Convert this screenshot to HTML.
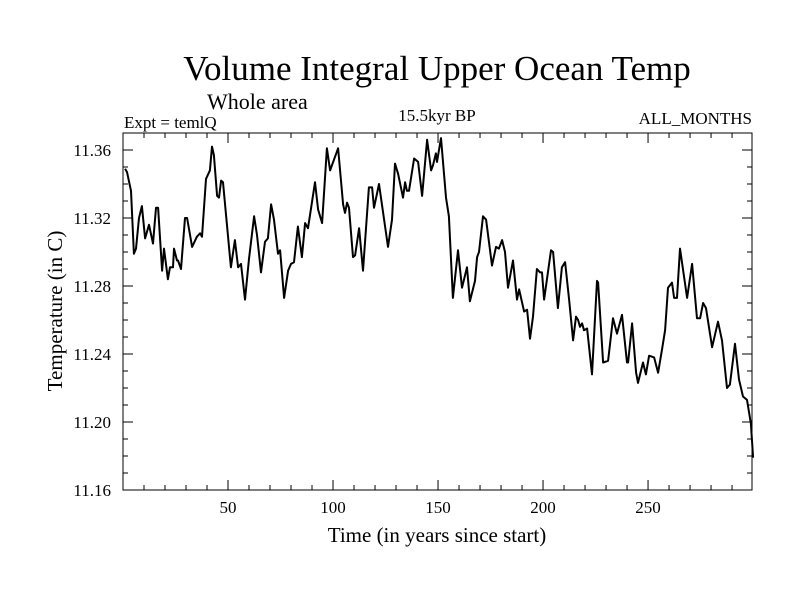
<!DOCTYPE html>
<html><head><meta charset="utf-8"><style>
body{margin:0;background:#fff;}
svg text{font-family:"Liberation Serif",serif;fill:#000;}
</style></head><body>
<svg id="chart" width="800" height="600" xmlns="http://www.w3.org/2000/svg">
<text x="437" y="80" font-size="35" text-anchor="middle">Volume Integral Upper Ocean Temp</text>
<text x="207" y="109" font-size="22">Whole area</text>
<text x="124" y="128" font-size="17">Expt = temlQ</text>
<text x="437" y="121" font-size="17" text-anchor="middle">15.5kyr BP</text>
<text x="752" y="124" font-size="17" text-anchor="end">ALL_MONTHS</text>
<text transform="translate(62,311) rotate(-90)" font-size="21" text-anchor="middle">Temperature (in C)</text>
<text x="437" y="542" font-size="21" text-anchor="middle">Time (in years since start)</text>
<g id="axes"></g>
<rect x="123" y="133" width="629" height="357" fill="none" stroke="#000" stroke-width="1"/>
<path id="series" fill="none" stroke="#000" stroke-width="2" stroke-linejoin="round"/>
</svg>
<script>
const years=[1,1.9,3.8,5.2,6.2,7.6,9.0,10.5,12.4,14.3,15.7,16.7,18.6,19.5,21.4,22.4,23.8,24.3,25.7,26.2,27.6,29.5,30.5,32.9,35.2,36.7,37.6,39.5,41.4,42.4,43.3,44.8,45.7,46.7,47.6,51.4,53.3,54.8,56.2,58.1,60.0,62.4,63.8,65.7,67.6,69.0,70.5,71.9,73.8,74.8,76.7,78.6,80.0,81.4,83.3,85.2,86.7,88.1,91.4,92.9,94.8,97.1,98.6,102.4,104.8,105.7,106.7,107.6,109.5,110.5,112.4,114.3,117.1,118.6,119.5,121.9,126.2,128.1,129.5,131.0,133.3,134.3,135.2,136.2,138.6,140.5,142.4,144.8,146.7,147.6,149.0,149.5,151.4,153.8,155.2,157.1,159.5,161.4,163.8,165.2,167.6,168.6,169.5,171.4,172.9,175.7,177.6,179.0,180.5,181.9,183.3,185.7,187.6,188.6,191.0,192.4,193.8,195.2,197.1,198.6,199.5,200.5,203.8,204.8,207.1,209.0,210.5,212.4,214.3,215.7,216.7,217.6,218.6,219.5,221.0,223.3,225.7,226.2,228.6,231.0,233.3,235.2,237.6,240.0,240.5,242.4,244.3,245.2,247.6,249.0,250.5,252.9,254.8,256.7,258.1,259.5,261.4,262.4,263.8,265.2,268.6,271.0,273.3,274.8,276.2,277.6,280.5,283.3,285.2,287.6,289.0,291.4,293.3,295.2,297.1,299.0,300];
const temps=[11.349,11.347,11.336,11.299,11.302,11.320,11.327,11.308,11.316,11.305,11.326,11.326,11.289,11.302,11.284,11.291,11.291,11.302,11.295,11.295,11.290,11.320,11.320,11.303,11.309,11.311,11.309,11.343,11.348,11.362,11.357,11.333,11.332,11.342,11.341,11.291,11.307,11.291,11.293,11.272,11.296,11.321,11.310,11.288,11.306,11.308,11.328,11.319,11.299,11.301,11.273,11.289,11.293,11.294,11.315,11.297,11.317,11.314,11.341,11.325,11.317,11.361,11.348,11.361,11.328,11.323,11.329,11.326,11.297,11.298,11.314,11.289,11.338,11.338,11.326,11.340,11.303,11.319,11.352,11.346,11.332,11.341,11.336,11.336,11.355,11.353,11.333,11.366,11.348,11.351,11.358,11.353,11.367,11.332,11.321,11.273,11.301,11.279,11.291,11.271,11.283,11.297,11.300,11.321,11.319,11.292,11.303,11.302,11.307,11.300,11.279,11.295,11.272,11.278,11.265,11.266,11.249,11.262,11.290,11.288,11.288,11.272,11.301,11.300,11.267,11.291,11.294,11.272,11.248,11.262,11.260,11.256,11.258,11.254,11.255,11.228,11.283,11.282,11.235,11.236,11.261,11.252,11.263,11.235,11.235,11.258,11.229,11.223,11.235,11.228,11.239,11.238,11.229,11.243,11.254,11.279,11.282,11.273,11.273,11.302,11.273,11.293,11.261,11.261,11.270,11.267,11.244,11.259,11.248,11.220,11.222,11.246,11.225,11.215,11.213,11.199,11.179];
const xTickLabels=[50,100,150,200,250];
const yTickLabels=["11.16","11.20","11.24","11.28","11.32","11.36"];

const X0=123,X1=752,Y0=490,Y1=133;
function xs(t){return X0+t*(X1-X0)/299.5;}
function ys(v){return Y0-(v-11.16)*1700;}
const NS="http://www.w3.org/2000/svg";
const axes=document.getElementById('axes');
function line(x1,y1,x2,y2,name){
  const l=document.createElementNS(NS,'line');
  l.setAttribute('x1',x1);l.setAttribute('y1',y1);l.setAttribute('x2',x2);l.setAttribute('y2',y2);
  l.setAttribute('stroke','#000');l.setAttribute('stroke-width','1');
  
  
  axes.appendChild(l);
}
function text(x,y,s,anchor,name){
  const t=document.createElementNS(NS,'text');
  t.setAttribute('x',x);t.setAttribute('y',y);t.setAttribute('font-size','17');t.setAttribute('text-anchor',anchor);
  t.textContent=s;
  
  
  axes.appendChild(t);
}
for(let t=10;t<300;t+=10){
  const x=xs(t); const major=(t%50===0); const L=major?10:5;
  line(x,Y0,x,Y0-L,'x-tick');
  line(x,Y1,x,Y1+L,'x-tick-top');
}
xTickLabels.forEach(v=>text(xs(v),513,String(v),'middle','x-tick-label'));
for(let i=0;i<=21;i++){
  const v=11.16+i*0.01; const y=ys(v); if(y<Y1-0.5)break;
  const major=(i%4===0); const L=major?10:5;
  line(X0,y,X0+L,y,'y-tick');
  line(X1,y,X1-L,y,'y-tick-right');
}
yTickLabels.forEach(s=>text(111,ys(parseFloat(s))+6,s,'end','y-tick-label'));
let d='';
years.forEach((t,i)=>{d+=(i?'L':'M')+xs(t).toFixed(1)+','+ys(temps[i]).toFixed(1);});
document.getElementById('series').setAttribute('d',d);
</script>
</body></html>
